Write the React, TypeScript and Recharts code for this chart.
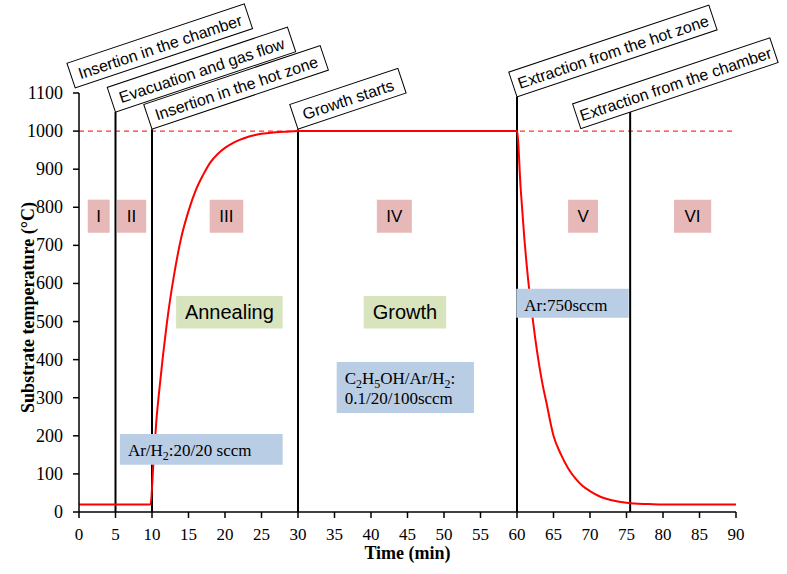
import { LineChart, Line, XAxis, YAxis, ReferenceLine, ReferenceArea, ReferenceDot } from 'recharts';

// Substrate temperature profile (min, °C)
const time = [
  0, 5, 9.8, 10.2, 10.6, 11, 11.5, 12, 12.5, 13, 14, 15, 16, 17, 18, 19, 20, 21, 22, 23, 24, 25, 26, 28, 30,
  60, 60.5, 61, 61.5, 62, 62.5, 63, 63.5, 64, 65, 66, 67, 68, 69, 70, 71, 72, 73, 74, 75, 76, 78, 80, 84, 90,
];
const temperature = [
  20, 20, 20, 130, 240, 320, 410, 490, 560, 620, 720, 790, 845, 885, 918, 940, 956, 968, 977, 984, 989, 993, 995, 998, 1000,
  1000, 850, 720, 615, 530, 455, 390, 335, 290, 200, 152, 115, 88, 68, 55, 44, 36, 31, 27, 24, 22, 21, 20, 20, 20,
];

const xTicks = [0, 5, 10, 15, 20, 25, 30, 35, 40, 45, 50, 55, 60, 65, 70, 75, 80, 85, 90];
const yTicks = [0, 100, 200, 300, 400, 500, 600, 700, 800, 900, 1000, 1100];

const targetTemp = 1000;

// process events: label, time, height of marker line
const eventLabels = [
  'Insertion in the chamber',
  'Evacuation and gas flow',
  'Insertion in the hot zone',
  'Growth starts',
  'Extraction from the hot zone',
  'Extraction from the chamber',
];
const eventTimes = [0, 5, 10, 30, 60, 75.5];
const eventTops = [1100, 1050, 1005, 1005, 1090, 1050];

// stages
const stageLabels = ['I', 'II', 'III', 'IV', 'V', 'VI'];
const stageFrom = [1.2, 5.2, 17.9, 40.8, 67, 81.5];
const stageTo = [4.2, 9.2, 22.5, 45.6, 71.1, 86.6];

const processLabels = ['Annealing', 'Growth'];
const processFrom = [13.3, 39];
const processTo = [27.9, 50.3];

// gas flows, [text, subscript?] pieces per line
const gasLines = [
  [[['Ar/H', false], ['2', true], [':20/20 sccm', false]]],
  [
    [['C', false], ['2', true], ['H', false], ['5', true], ['OH/Ar/H', false], ['2', true], [':', false]],
    [['0.1/20/100sccm', false]],
  ],
  [[['Ar:750sccm', false]]],
] as [string, boolean][][][];
const gasX1 = [5.6, 35.3, 59.9];
const gasX2 = [27.9, 54.1, 75.3];
const gasY1 = [124, 260, 510];
const gasY2 = [205, 394, 586];

const data = time.map((t, i) => ({ t, T: temperature[i] }));

const SERIF = "'Liberation Serif', 'Times New Roman', serif";
const SANS = "'Liberation Sans', Arial, sans-serif";

const boxWidths = [187, 190, 186, 114, 211, 208];
const boxShift = [-2, 0, 0, 0, 0, -52];
const boxLift = [-6, 0, 0, 0, 0, 0];

const calloutShape = (i: number) => (props: any) => {
  const { cx, cy } = props;
  const w = boxWidths[i];
  const h = 26;
  const x = boxShift[i];
  const y = boxLift[i] - h;
  return (
    <g transform={`translate(${cx},${cy}) rotate(-18.5)`}>
      <rect x={x} y={y} width={w} height={h} fill="#fff" stroke="#000" strokeWidth={1} />
      <text x={x + w / 2} y={y + h / 2 + 1} textAnchor="middle" dominantBaseline="central" fontSize={16} fontFamily={SANS} fill="#000">
        {eventLabels[i]}
      </text>
    </g>
  );
};

const GasLabel = (props: any) => {
  const { viewBox, idx } = props;
  const { x, y } = viewBox;
  return (
    <g>
      {gasLines[idx].map((line, li) => (
        <text key={li} x={x + 8} y={y + 22 + li * 20} fontFamily={SERIF} fontSize={17} fill="#000">
          {line.map(([s, sub], k) =>
            sub ? (
              <tspan key={k} baselineShift="-4" fontSize={12}>{s}</tspan>
            ) : (
              <tspan key={k}>{s}</tspan>
            )
          )}
        </text>
      ))}
    </g>
  );
};

const XTick = (props: any) => {
  const { x, y, payload } = props;
  return (
    <text x={x} y={y + 14} textAnchor="middle" fontFamily={SERIF} fontSize={17} fill="#000">
      {payload.value}
    </text>
  );
};

const YTick = (props: any) => {
  const { x, y, payload } = props;
  return (
    <text x={x} y={y + 6} textAnchor="end" fontFamily={SERIF} fontSize={18} fill="#000">
      {payload.value}
    </text>
  );
};

const YTitle = (props: any) => {
  const { viewBox } = props;
  const cx = 28;
  const cy = viewBox.y + viewBox.height / 2 + 5;
  return (
    <text x={cx} y={cy} transform={`rotate(-90 ${cx} ${cy})`} textAnchor="middle" dominantBaseline="central"
      fontFamily={SERIF} fontWeight="bold" fontSize={18} fill="#000">
      Substrate temperature (°C)
    </text>
  );
};

const XTitle = (props: any) => {
  const { viewBox } = props;
  return (
    <text x={viewBox.x + viewBox.width / 2} y={559} textAnchor="middle"
      fontFamily={SERIF} fontWeight="bold" fontSize={18} fill="#000">
      Time (min)
    </text>
  );
};

export default function App() {
  return (
    <div style={{ width: 787, height: 574, background: '#fff' }}>
      <style>{`body { margin: 0; }`}</style>
      <LineChart width={787} height={574} data={data} margin={{ top: 93, right: 51, bottom: 12, left: 0 }}>
        <XAxis
          dataKey="t"
          type="number"
          domain={[0, 90]}
          ticks={xTicks}
          interval={0}
          height={50}
          stroke="#000"
          strokeWidth={1.5}
          tickSize={6}
          tickMargin={8}
          tick={<XTick />}
          label={<XTitle />}
        />
        <YAxis
          type="number"
          domain={[0, 1100]}
          ticks={yTicks}
          interval={0}
          width={79}
          stroke="#000"
          strokeWidth={1.5}
          tickSize={6}
          tickMargin={10}
          tick={<YTick />}
          label={<YTitle />}
        />
        <ReferenceLine y={targetTemp} stroke="#ff3030" strokeWidth={1.2} strokeDasharray="5 4" />
        {eventTimes.slice(1).map((t, i) => (
          <ReferenceLine
            key={`ev-${i}`}
            segment={[{ x: t, y: 0 }, { x: t, y: eventTops[i + 1] }]}
            stroke="#000"
            strokeWidth={2}
          />
        ))}
        <Line
          dataKey="T"
          type="monotone"
          stroke="#ff0000"
          strokeWidth={2}
          dot={false}
          isAnimationActive={false}
        />
        {stageLabels.map((s, i) => (
          <ReferenceArea
            key={`st-${i}`}
            x1={stageFrom[i]}
            x2={stageTo[i]}
            y1={733}
            y2={820}
            fill="#e6b9b8"
            fillOpacity={1}
            stroke="none"
            zIndex={450}
            label={{ value: s, position: 'center', fill: '#000', fontSize: 17, fontFamily: SANS }}
          />
        ))}
        {processLabels.map((s, i) => (
          <ReferenceArea
            key={`pr-${i}`}
            x1={processFrom[i]}
            x2={processTo[i]}
            y1={482}
            y2={567}
            fill="#d7e4bd"
            fillOpacity={1}
            stroke="none"
            zIndex={450}
            label={{ value: s, position: 'center', fill: '#000', fontSize: 20, fontFamily: SANS }}
          />
        ))}
        {gasX1.map((x1, i) => (
          <ReferenceArea
            key={`gas-${i}`}
            x1={x1}
            x2={gasX2[i]}
            y1={gasY1[i]}
            y2={gasY2[i]}
            fill="#b9cde5"
            fillOpacity={1}
            stroke="none"
            zIndex={450}
            label={<GasLabel idx={i} />}
          />
        ))}
        {eventTimes.map((t, i) => (
          <ReferenceDot
            key={`co-${i}`}
            x={t}
            y={eventTops[i]}
            ifOverflow="visible"
            zIndex={2100}
            shape={calloutShape(i)}
          />
        ))}
      </LineChart>
    </div>
  );
}
